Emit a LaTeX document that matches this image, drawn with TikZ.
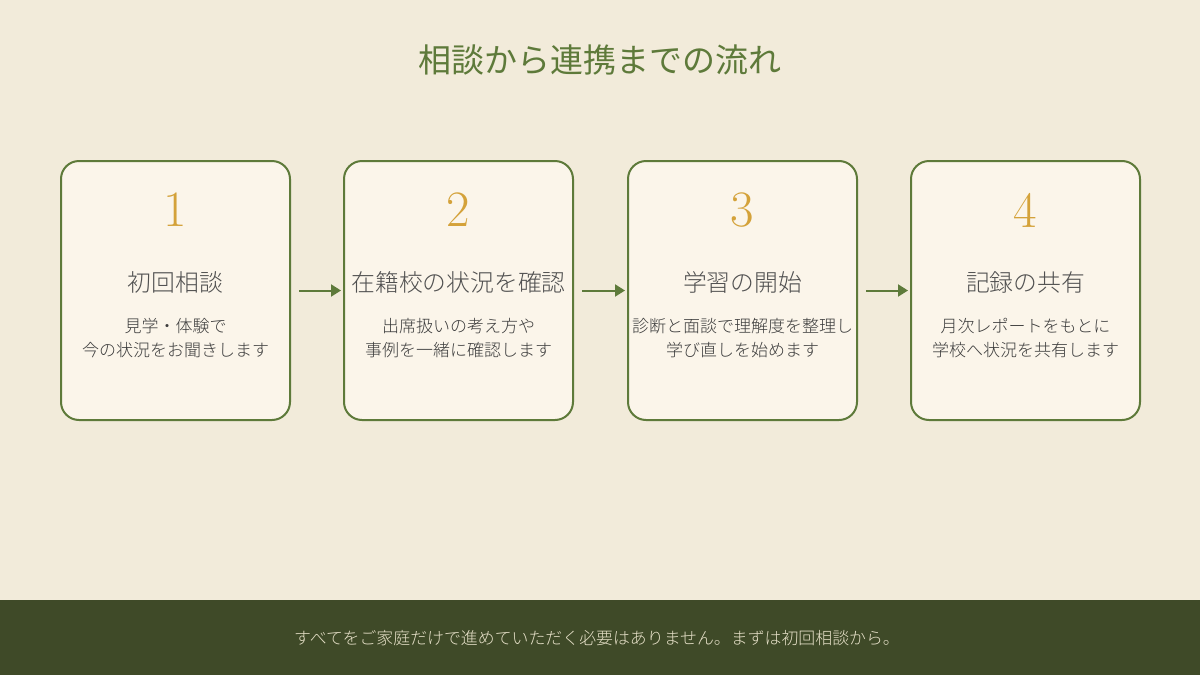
\documentclass[tikz,border=0pt]{standalone}
\usepackage{fontspec}
\setmainfont{Noto Sans CJK JP}
\newfontfamily\lightcjk{Noto Sans CJK JP Light}
\newfontfamily\digitfont{Latin Modern Roman}
\usetikzlibrary{arrows.meta}
\definecolor{bgc}{HTML}{F2EBDA}
\definecolor{boxfill}{HTML}{FBF5EA}
\definecolor{boxline}{HTML}{5E7A3A}
\definecolor{titlec}{HTML}{5E7A3A}
\definecolor{goldc}{HTML}{D4A23A}
\definecolor{headc}{HTML}{505050}
\definecolor{descc}{HTML}{3C3C3C}
\definecolor{footc}{HTML}{3F4A28}
\definecolor{foottext}{HTML}{E6E0C8}
\tikzset{
  stepbox/.style={draw=boxline, line width=2pt, fill=boxfill, rounded corners=18pt,
    minimum width=229pt, minimum height=259pt, inner sep=0pt},
  numtext/.style={text=goldc, font=\digitfont\fontsize{51}{56}\selectfont, inner sep=0pt},
  headtext/.style={text=headc, font=\lightcjk\fontsize{23.8}{27}\selectfont, inner sep=0pt},
  desctext/.style={text=descc, font=\lightcjk\fontsize{17}{24}\selectfont, align=center, inner sep=0pt},
  flowarrow/.style={draw=boxline, line width=2pt, -{Triangle[length=10pt,width=12pt]},
    shorten <=8pt, shorten >=2pt}
}
\begin{document}
\begin{tikzpicture}[x=1pt,y=-1pt]
\fill[bgc] (0,0) rectangle (1200,675);
\useasboundingbox (0,0) rectangle (1200,675);
\fill[footc] (0,600) rectangle (1200,675);
\node[text=titlec, font=\fontsize{33}{38}\selectfont, inner sep=0pt] (title) at (600,60) {相談から連携までの流れ};
\node[stepbox] (b1) at (175.5,290.5) {};
\node[stepbox] (b2) at (458.5,290.5) {};
\node[stepbox] (b3) at (742.5,290.5) {};
\node[stepbox] (b4) at (1025.5,290.5) {};
\node[numtext] (n1) at (175.5,210) {1};
\node[numtext] (n2) at (458.5,210) {2};
\node[numtext] (n3) at (742.5,210) {3};
\node[numtext] (n4) at (1025.5,210) {4};
\node[headtext] (h1) at (175.5,282) {初回相談};
\node[headtext] (h2) at (458.5,282) {在籍校の状況を確認};
\node[headtext] (h3) at (742.5,282) {学習の開始};
\node[headtext] (h4) at (1025.5,282) {記録の共有};
\node[desctext] (d1) at (175.5,338) {見学・体験で\\今の状況をお聞きします};
\node[desctext] (d2) at (458.5,338) {出席扱いの考え方や\\事例を一緒に確認します};
\node[desctext] (d3) at (742.5,338) {診断と面談で理解度を整理し\\学び直しを始めます};
\node[desctext] (d4) at (1025.5,338) {月次レポートをもとに\\学校へ状況を共有します};
\draw[flowarrow] (b1.east) -- (b2.west);
\draw[flowarrow] (b2.east) -- (b3.west);
\draw[flowarrow] (b3.east) -- (b4.west);
\node[text=foottext, font=\lightcjk\fontsize{16.9}{20}\selectfont, inner sep=0pt] (foot) at (597,638) {すべてをご家庭だけで進めていただく必要はありません。まずは初回相談から。};
\end{tikzpicture}
\end{document}
